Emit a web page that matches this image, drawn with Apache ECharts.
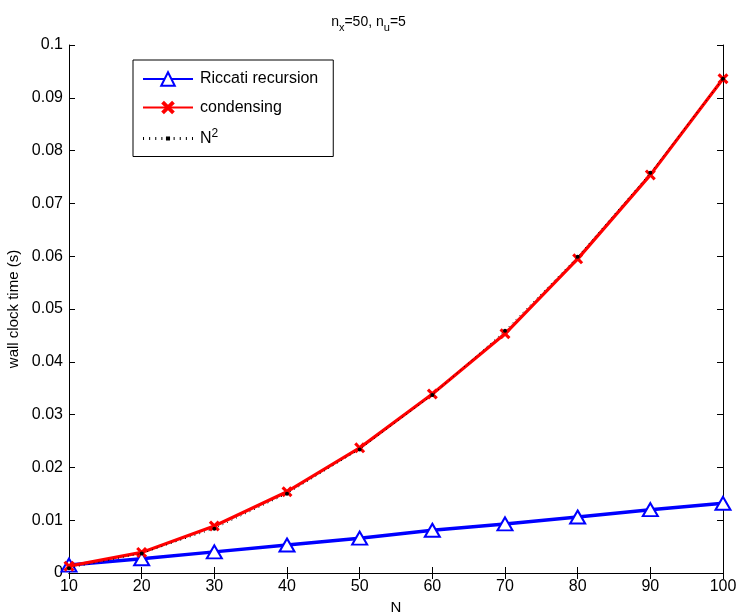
<!DOCTYPE html>
<html><head><meta charset="utf-8">
<script src="https://cdn.jsdelivr.net/npm/echarts@6/dist/echarts.min.js"></script>
<style>html,body{margin:0;padding:0;background:#fff}#c{width:737px;height:612px}</style>
</head><body><div id="c"></div>
<script>
const categories = [10, 20, 30, 40, 50, 60, 70, 80, 90, 100];
const riccati = [0.0015, 0.0027, 0.0040, 0.0053, 0.0066, 0.0081, 0.0093, 0.0106, 0.0120, 0.0132];
const condensing = [0.0013, 0.0039, 0.0089, 0.0154, 0.0237, 0.0339, 0.0453, 0.0595, 0.0754, 0.0936];
const nSquared = [0.0009, 0.0037, 0.0084, 0.0150, 0.0234, 0.0337, 0.0459, 0.0599, 0.0758, 0.0936];
const seriesNames = ['Riccati recursion', 'condensing', 'N2'];

const font = 'Liberation Sans, Arial, Helvetica, sans-serif';
const pair = a => a.map((v, i) => [categories[i], v]);
const xMark = 'path://M0,2 L2,0 L5,3 L8,0 L10,2 L7,5 L10,8 L8,10 L5,7 L2,10 L0,8 L3,5 Z';
const dotIcon = 'path://M1,0.5 h1 v3 h-1 Z M7,0.5 h1 v3 h-1 Z M13,0.5 h1 v3 h-1 Z M19,0.5 h1 v3 h-1 Z ' +
  'M23.5,0 h4 v4 h-4 Z M31,0.5 h1 v3 h-1 Z M37,0.5 h1 v3 h-1 Z M43,0.5 h1 v3 h-1 Z M49,0.5 h1 v3 h-1 Z';

const chart = echarts.init(document.getElementById('c'));
const baseAxis = {
  axisLine: {lineStyle: {color: '#000', width: 1}},
  axisTick: {inside: true, length: 6, lineStyle: {color: '#000'}},
  splitLine: {show: false}
};
chart.setOption({
  animation: false,
  backgroundColor: '#fff',
  title: {
    text: 'n{sub|x}=50, n{sub|u}=5',
    left: 'center', top: 7,
    textStyle: {
      fontFamily: font, fontSize: 14, fontWeight: 'normal', color: '#000',
      rich: {sub: {fontFamily: font, fontSize: 11, color: '#000', verticalAlign: 'bottom', padding: [10, 0, 0, 0]}}
    }
  },
  grid: {left: 69, right: 14, top: 45, bottom: 39, outerBoundsMode: 'none', containLabel: false},
  legend: {
    left: 133, top: 60, orient: 'vertical',
    padding: [11, 15, 10, 9],
    itemGap: 12.5,
    itemWidth: 50, itemHeight: 17,
    symbolKeepAspect: true,
    borderColor: '#000', borderWidth: 1,
    backgroundColor: '#fff',
    data: [
      {name: seriesNames[0]},
      {name: seriesNames[1]},
      {name: seriesNames[2], itemStyle: {color: '#000'}, icon: dotIcon}
    ],
    textStyle: {fontFamily: font, fontSize: 16, color: '#000', padding: [0, 0, 0, 2],
      rich: {sup: {fontFamily: font, fontSize: 12, color: '#000', verticalAlign: 'top', padding: [0, 0, 9, 0]}}},
    formatter: n => n === 'N2' ? 'N{sup|2}' : n
  },
  xAxis: [
    Object.assign({}, baseAxis, {
      type: 'value', min: 10, max: 100, interval: 10,
      name: 'N', nameLocation: 'middle', nameGap: 26,
      nameTextStyle: {fontFamily: font, fontSize: 15, color: '#000'},
      axisLabel: {fontFamily: font, fontSize: 16, color: '#000', margin: 6}
    }),
    Object.assign({}, baseAxis, {
      type: 'value', min: 10, max: 100, interval: 10, position: 'top',
      axisLabel: {show: false}
    })
  ],
  yAxis: [
    Object.assign({}, baseAxis, {
      type: 'value', min: 0, max: 0.1, interval: 0.01,
      name: 'wall clock time (s)', nameLocation: 'middle', nameGap: 45,
      nameTextStyle: {fontFamily: font, fontSize: 15, color: '#000'},
      axisLabel: {fontFamily: font, fontSize: 16, color: '#000', margin: 6,
        formatter: v => String(Math.round(v * 100) / 100)}
    }),
    Object.assign({}, baseAxis, {
      type: 'value', min: 0, max: 0.1, interval: 0.01, position: 'right',
      axisLabel: {show: false}
    })
  ],
  series: [
    {
      name: seriesNames[0], type: 'line', data: pair(riccati),
      lineStyle: {color: '#0000ff', width: 3.5},
      symbol: 'emptyTriangle', symbolSize: [15, 13],
      itemStyle: {color: '#0000ff', borderColor: '#0000ff', borderWidth: 3},
      z: 2
    },
    {
      name: seriesNames[1], type: 'line', data: pair(condensing),
      lineStyle: {color: '#ff0000', width: 3.2},
      symbol: xMark, symbolSize: 11,
      itemStyle: {color: '#ff0000'},
      z: 3
    },
    {
      name: seriesNames[2], type: 'line', data: pair(nSquared),
      lineStyle: {color: '#000', width: 1, type: [1, 4]},
      symbol: 'circle', symbolSize: 4,
      itemStyle: {color: '#000'},
      z: 4
    }
  ]
});
</script></body></html>
